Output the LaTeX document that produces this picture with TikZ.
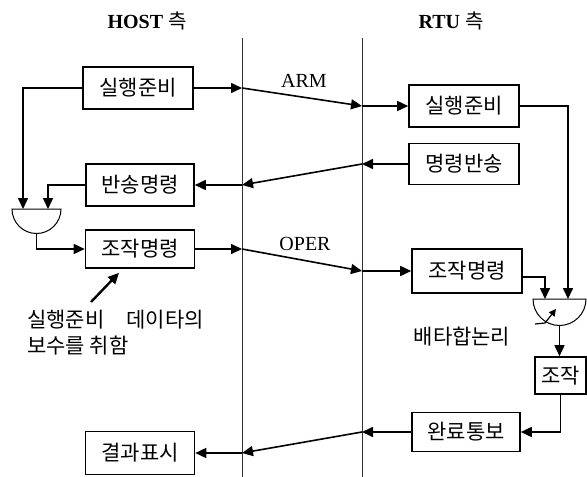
\documentclass[tikz,border=0pt]{standalone}
\usepackage{fontspec}
\setmainfont{Liberation Serif}
\newfontfamily\kr{Noto Sans CJK KR}
\usetikzlibrary{arrows.meta}
\newcommand\tam{\fontsize{20}{24}\selectfont}
\newcommand\tamk{\fontsize{21}{25}\selectfont}
\tikzset{
	caja/.style={draw, line width=1.6pt, minimum width=110pt, minimum height=42pt, inner sep=0pt, font=\kr\tamk},
	flecha/.style={line width=1.6pt, -{Triangle[length=11pt,width=10pt]}},
	puerta/.style={line width=1pt},
	division/.style={line width=0.7pt, black!80},
}
\begin{document}
\begin{tikzpicture}[x=1pt, y=-1pt, font=\tam]
		\useasboundingbox (0,0) rectangle (587,477);
		% Líneas divisorias
		\draw[division] (242,38) -- (242,477);
		\draw[division] (362,38) -- (362,477);
		% Títulos
		\node[anchor=base] (host) at (147,28) {\bfseries HOST {\kr\mdseries 측}};
		\node[anchor=base] (rtu) at (451,28) {\bfseries RTU {\kr\mdseries 측}};
		% Lado HOST
		\node[caja] (hjunbi) at (138,88) {실행준비};
		\node[caja, minimum width=108pt] (hbansong) at (140,185) {반송명령};
		\node[caja, minimum width=109pt, minimum height=38pt] (hjojak) at (140,249) {조작명령};
		\node[caja, minimum width=109pt, minimum height=43pt] (hgyeolgwa) at (140,453) {결과표시};
		% Lado RTU
		\node[caja] (rjunbi) at (464,106) {실행준비};
		\node[caja, minimum height=41pt] (rbansong) at (464,164) {명령반송};
		\node[caja, minimum height=44pt] (rjojak) at (467,271) {조작명령};
		\node[caja, minimum width=108pt, minimum height=39pt] (rwanryo) at (466,432) {완료통보};
		\node[caja, minimum width=51pt, minimum height=37pt] (rop) at (560.5,375.5) {조작};
		% Puerta HOST
		\draw[puerta] (12,209) -- (61,209) arc[start angle=0, end angle=180, radius=24.5] -- cycle;
		\coordinate (g1a) at (23,209);
		\coordinate (g1b) at (48,209);
		\coordinate (g1o) at (36.5,233.5);
		\draw[flecha] (hjunbi.west) -| (g1a);
		\draw[flecha] (hbansong.west) -| (g1b);
		\draw[flecha] (g1o) |- (hjojak.west);
		% Puerta RTU (배타합논리)
		\draw[puerta] (533,299) -- (586,299) arc[start angle=0, end angle=180, radius=26.5] -- cycle;
		\coordinate (g2a) at (545,299);
		\coordinate (g2b) at (568,299);
		\coordinate (g2o) at (559.5,325.5);
		\draw[flecha] ([yshift=-6pt]rjojak.east) -| (g2a);
		\draw[flecha] (rjunbi.east) -| (g2b);
		\draw[flecha] (g2o) -- (g2o |- rop.north);
		\draw[line width=1.2pt, -{Triangle[length=7pt,width=7pt]}] (535,324) -- (545,323) -- (556,309);
		\node[font=\kr\tamk] (baeta) at (462,337) {배타합논리};
		\draw[flecha] (rop.south) |- (rwanryo.east);
		% ARM
		\coordinate (arm1) at (242,88);
		\coordinate (arm2) at (362,106);
		\draw[flecha] (hjunbi.east) -- (arm1);
		\draw[flecha] (arm1) -- (arm2);
		\draw[flecha] (arm2) -- (rjunbi.west);
		\node[anchor=base] (arm) at (304,87) {ARM};
		% Retorno
		\coordinate (ban2) at (362,164);
		\coordinate (ban1) at (242,185);
		\draw[flecha] (rbansong.west) -- (ban2);
		\draw[flecha] (ban2) -- (ban1);
		\draw[flecha] (ban1) -- (hbansong.east);
		% OPER
		\coordinate (op1) at (242,249);
		\coordinate (op2) at (362,271);
		\draw[flecha] (hjojak.east) -- (op1);
		\draw[flecha] (op1) -- (op2);
		\draw[flecha] (op2) -- (rjojak.west);
		\node[anchor=base] (oper) at (305,250) {OPER};
		% Fin
		\coordinate (wan2) at (362,432);
		\coordinate (wan1) at (242,453);
		\draw[flecha] (rwanryo.west) -- (wan2);
		\draw[flecha] (wan2) -- (wan1);
		\draw[flecha] (wan1) -- (hgyeolgwa.east);
		% Nota
		\node[anchor=north west, align=left, inner sep=0pt, font=\kr\tamk] (nota) at (27,310)
			{실행준비\hspace{22pt}데이타의\\[1pt]보수를 취함};
		\draw[flecha, line width=2.4pt] ([xshift=64pt,yshift=8pt]nota.north west) -- ([xshift=-21pt,yshift=-4pt]hjojak.south);
	\end{tikzpicture}
\end{document}
